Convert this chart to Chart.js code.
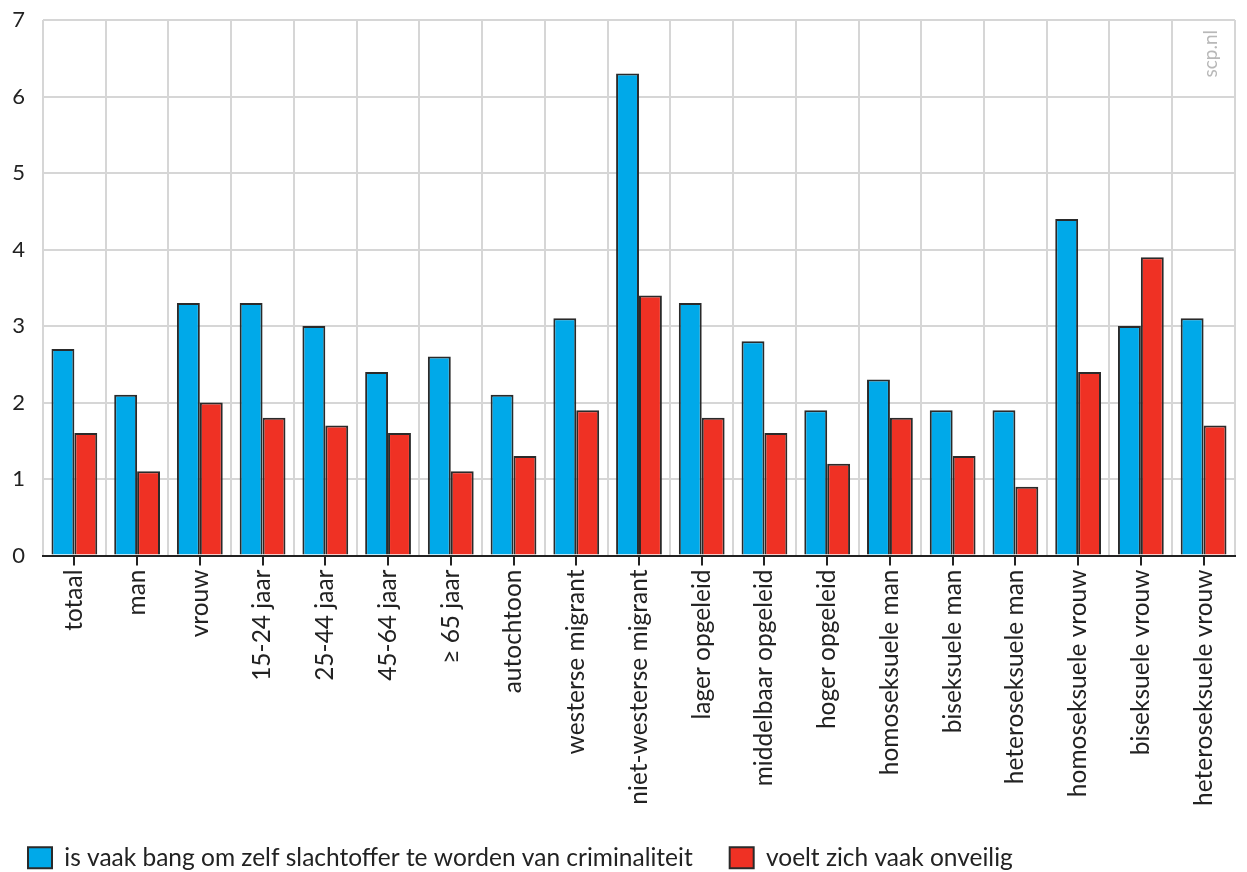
<!DOCTYPE html>
<html>
<head>
<meta charset="utf-8">
<script src="https://cdn.jsdelivr.net/npm/chart.js@4/dist/chart.umd.min.js"></script>
<style>
  html, body { margin: 0; padding: 0; background: #fff; }
  #wrap { width: 1247px; height: 872px; position: relative; }
</style>
</head>
<body>
<div id="wrap"><canvas id="chart"></canvas></div>
<script>
const categories = [
  "totaal", "man", "vrouw", "15-24 jaar", "25-44 jaar", "45-64 jaar", "≥ 65 jaar",
  "autochtoon", "westerse migrant", "niet-westerse migrant", "lager opgeleid",
  "middelbaar opgeleid", "hoger opgeleid", "homoseksuele man", "biseksuele man",
  "heteroseksuele man", "homoseksuele vrouw", "biseksuele vrouw", "heteroseksuele vrouw"
]
const bangValues = [2.7, 2.1, 3.3, 3.3, 3.0, 2.4, 2.6, 2.1, 3.1, 6.3, 3.3, 2.8, 1.9, 2.3, 1.9, 1.9, 4.4, 3.0, 3.1]
const onveiligValues = [1.6, 1.1, 2.0, 1.8, 1.7, 1.6, 1.1, 1.3, 1.9, 3.4, 1.8, 1.6, 1.2, 1.8, 1.3, 0.9, 2.4, 3.9, 1.7]
const seriesNames = ["is vaak bang om zelf slachtoffer te worden van criminaliteit", "voelt zich vaak onveilig"]
const yTicks = [0, 1, 2, 3, 4, 5, 6, 7]

const FONT = "Lato, 'Noto Sans', sans-serif"
Chart.defaults.font.family = FONT
Chart.defaults.color = "#222"

// tick marks at category centres + watermark
const extras = {
  id: "extras",
  afterDraw(chart) {
    const ctx = chart.ctx
    const x = chart.scales.x
    const area = chart.chartArea
    ctx.save()
    ctx.strokeStyle = "#222"
    ctx.lineWidth = 2
    categories.forEach((c, i) => {
      const px = Math.round(x.getPixelForValue(i))
      ctx.beginPath()
      ctx.moveTo(px, area.bottom)
      ctx.lineTo(px, area.bottom + 10)
      ctx.stroke()
    })
    ctx.translate(area.right - 24, area.top + 10)
    ctx.rotate(-Math.PI / 2)
    ctx.fillStyle = "#b8b8b8"
    ctx.font = "19px " + FONT
    ctx.textAlign = "right"
    ctx.textBaseline = "middle"
    ctx.fillText("scp.nl", 0, 0)
    ctx.restore()
  }
}

new Chart(document.getElementById("chart"), {
  type: "bar",
  data: {
    labels: categories,
    datasets: [
      {
        label: seriesNames[0],
        data: bangValues,
        backgroundColor: "#00a9e9",
        borderColor: "#2a2a2a",
        borderWidth: 2,
      },
      {
        label: seriesNames[1],
        data: onveiligValues,
        backgroundColor: "#ef3124",
        borderColor: "#2a2a2a",
        borderWidth: 2,
      },
    ],
  },
  options: {
    responsive: true,
    maintainAspectRatio: false,
    animation: false,
    layout: { padding: { top: 0, left: -9, right: 0, bottom: -8 } },
    datasets: { bar: { categoryPercentage: 0.73, barPercentage: 1.0 } },
    scales: {
      x: {
        grid: { color: "#d6d6d6", lineWidth: 2, offset: true, drawTicks: false },
        border: { display: true, color: "#222", width: 2 },
        afterFit(scale) {
          scale.height = 253
        },
        ticks: {
          font: { size: 24.5 },
          color: "#222",
          minRotation: 90,
          maxRotation: 90,
          padding: 14,
          autoSkip: false,
        },
      },
      y: {
        min: 0,
        max: 7,
        afterBuildTicks(scale) {
          scale.ticks = yTicks.map((v) => ({ value: v }))
        },
        afterFit(scale) {
          scale.width = 52
          scale.paddingTop = 20
          scale.paddingBottom = 0
        },
        grid: { color: "#d6d6d6", lineWidth: 2, drawTicks: false },
        border: { display: false },
        ticks: {
          font: { size: 22 },
          color: "#222",
          padding: 18,
          crossAlign: "near",
        },
      },
    },
    plugins: {
      legend: {
        position: "bottom",
        align: "start",
        labels: {
          boxWidth: 24,
          boxHeight: 21,
          padding: 37,
          font: { size: 24.5 },
          color: "#222",
        },
      },
      tooltip: { enabled: false },
    },
  },
  plugins: [extras],
})
</script>
</body>
</html>
